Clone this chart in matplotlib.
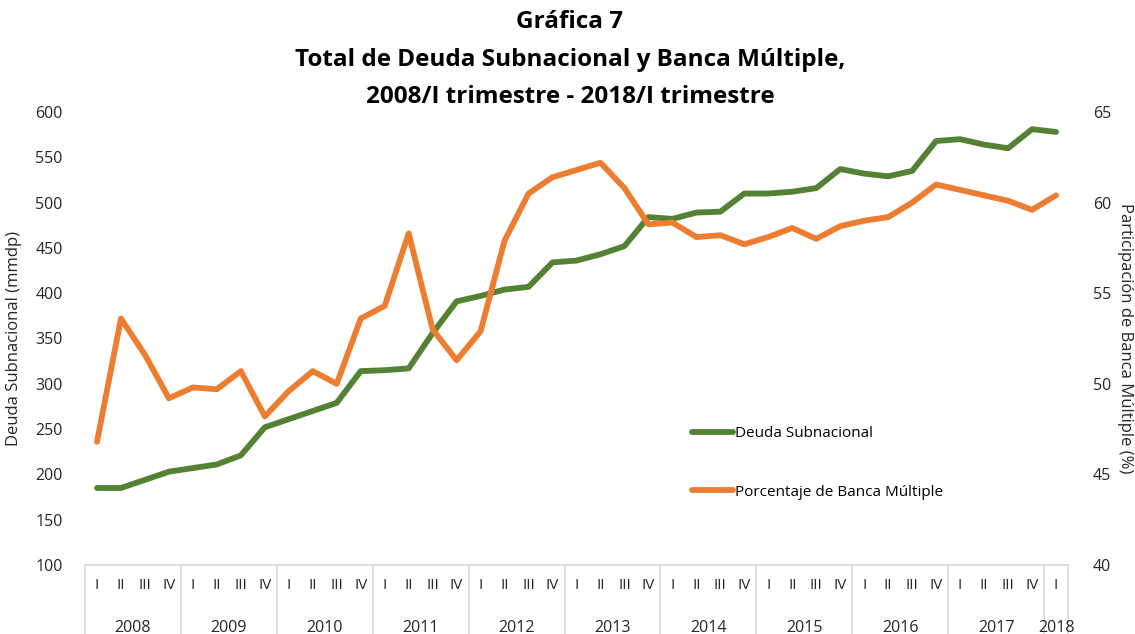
import matplotlib
matplotlib.use("Agg")
import matplotlib.pyplot as plt
import matplotlib.transforms as mtransforms

plt.rcParams['font.family'] = ['Open Sans', 'DejaVu Sans']

years = ['2008', '2009', '2010', '2011', '2012', '2013', '2014', '2015', '2016', '2017', '2018']
quarters = ['I', 'II', 'III', 'IV']

deuda = [185, 185, 194, 203, 207, 211, 221, 252, 261, 270, 279, 314,
         315, 317, 356, 391, 397, 404, 407, 434, 436, 443, 452, 484,
         482, 489, 490, 510, 510, 512, 516, 537, 532, 529, 535, 568,
         570, 564, 560, 581, 578]
banca = [46.8, 53.6, 51.6, 49.2, 49.8, 49.7, 50.7, 48.2, 49.6, 50.7, 50.0, 53.6,
         54.3, 58.3, 53.0, 51.3, 52.9, 57.9, 60.5, 61.4, 61.8, 62.2, 60.8, 58.8,
         58.9, 58.1, 58.2, 57.7, 58.1, 58.6, 58.0, 58.7, 59.0, 59.2, 60.0, 61.0,
         60.7, 60.4, 60.1, 59.6, 60.4]

labels = []
for y in years:
    for q in quarters:
        labels.append(q)
labels = labels[:len(deuda)]

GREEN = '#548235'
ORANGE = '#ED7D31'
GRID = '#D9D9D9'

fig = plt.figure(figsize=(11.35, 6.34), dpi=100)
ax = fig.add_axes([85/1135, 1-565/634, (1068-85)/1135, (565-112)/634])
ax2 = ax.twinx()

x = [i + 0.5 for i in range(len(deuda))]
l1, = ax.plot(x, deuda, color=GREEN, lw=4.2, solid_capstyle='round', solid_joinstyle='round', label='Deuda Subnacional')
l2, = ax2.plot(x, banca, color=ORANGE, lw=4.2, solid_capstyle='round', solid_joinstyle='round', label='Porcentaje de Banca Múltiple')

ax.set_xlim(0, len(deuda))
ax.set_ylim(100, 600)
ax2.set_ylim(40, 65)
ax.set_yticks(range(100, 601, 50))
ax2.set_yticks(range(40, 66, 5))
for a in (ax, ax2):
    for s in a.spines.values():
        s.set_visible(False)
    a.set_xticks([])
ax.tick_params(axis='y', length=0, pad=16, labelsize=11.5, colors='#262626')
ax2.tick_params(axis='y', length=0, pad=18, labelsize=11.5, colors='#262626')

ax.set_ylabel('Deuda Subnacional (mmdp)', fontsize=12, color='#262626', labelpad=10)
ax2.set_ylabel('Participación de Banca Múltiple (%)', fontsize=12, color='#262626', rotation=-90, labelpad=16)

# category axis
trans = mtransforms.blended_transform_factory(ax.transData, ax.transAxes)
h = 565 - 112
ax.plot([0, len(deuda)], [0, 0], transform=trans, color=GRID, lw=1.2, clip_on=False)
for i, q in enumerate(labels):
    ax.text(i + 0.5, -13/h, q, transform=trans, ha='center', va='top', fontsize=11, color='#262626')
n = len(deuda)
bounds = list(range(0, n, 4)) + [n]
for b in bounds:
    ax.plot([b, b], [0, -70/h], transform=trans, color=GRID, lw=1.2, clip_on=False)
for k, yr in enumerate(years):
    start = 4 * k
    end = min(4 * k + 4, n)
    cx = (start + end) / 2
    if end - start < 4:
        cx = start + 0.5
    ax.text(cx, -55/h, yr, transform=trans, ha='center', va='top', fontsize=11.5, color='#262626')

leg = ax.legend(handles=[l1, l2], frameon=False, loc='upper left',
                bbox_to_anchor=((686-85)/983, (565-420)/h), fontsize=11,
                labelspacing=2.85, handlelength=2.7, handletextpad=0.1, borderaxespad=0)

fig.text(570/1135, 1-22/634, 'Gráfica 7', ha='center', va='center', fontsize=17.5, fontweight='bold')
fig.text(570/1135, 1-60/634, 'Total de Deuda Subnacional y Banca Múltiple,', ha='center', va='center', fontsize=17.5, fontweight='bold')
fig.text(570/1135, 1-97/634, '2008/I trimestre - 2018/I trimestre', ha='center', va='center', fontsize=17.5, fontweight='bold')

fig.savefig('out.png', dpi=100)
